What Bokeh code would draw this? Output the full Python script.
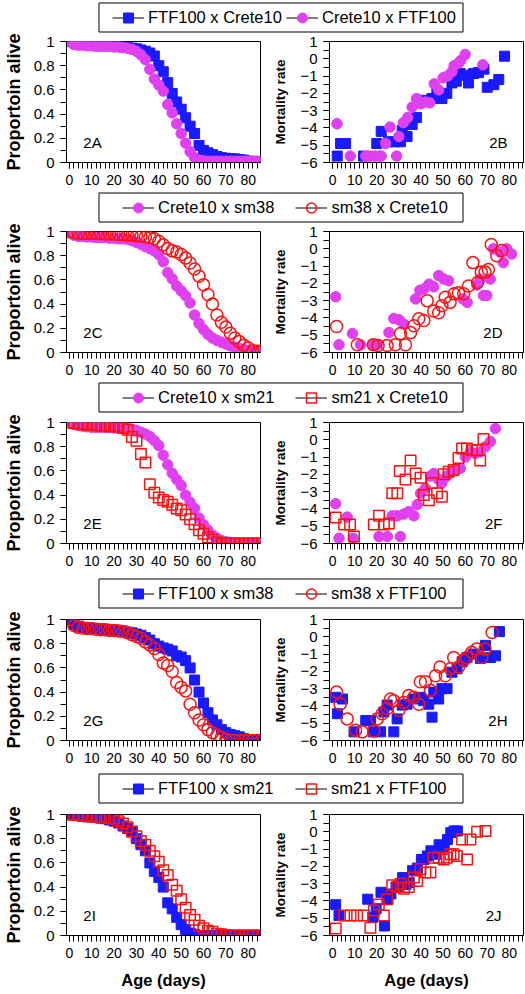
import math
from bokeh.plotting import figure
from bokeh.layouts import column, row
from bokeh.models import (Range1d, SingleIntervalTicker, Label, Legend, LegendItem,
                          BoxAnnotation, CustomJSTickFormatter)
from bokeh.core.properties import value
from bokeh.embed import file_html
from bokeh.resources import INLINE

FONT = "Liberation Sans"
BLUE = "#1a1aff"
PINK = "#e040f0"
RED = "#ff1010"

# ---------------- data ----------------
AGES = list(range(0, 88, 2))

surv_A_ftf_crete = [1.0, 0.995, 0.99, 0.99, 0.985, 0.98, 0.98, 0.975, 0.97, 0.97,
                    0.965, 0.96, 0.955, 0.95, 0.945, 0.94, 0.93, 0.92, 0.905, 0.88,
                    0.80, 0.75, 0.66, 0.57, 0.50, 0.44, 0.37, 0.30, 0.24, 0.14,
                    0.10, 0.08, 0.065, 0.05, 0.04, 0.035, 0.03, 0.03, 0.025, 0.02,
                    0.01, 0.01, 0.005, 0.0]
surv_A_crete_ftf = [1.0, 0.975, 0.97, 0.97, 0.965, 0.965, 0.96, 0.96, 0.96, 0.96,
                    0.955, 0.955, 0.95, 0.945, 0.935, 0.92, 0.89, 0.85, 0.77, 0.69,
                    0.64, 0.59, 0.48, 0.41, 0.32, 0.24, 0.16, 0.09, 0.04, 0.02,
                    0.015, 0.01, 0.01, 0.01, 0.01, 0.01, 0.01, 0.01, 0.01, 0.01,
                    0.01, 0.01, 0.01, 0.01]
surv_C_crete_sm38 = [1.0, 0.97, 0.96, 0.96, 0.955, 0.955, 0.95, 0.95, 0.95, 0.945,
                     0.945, 0.94, 0.94, 0.935, 0.925, 0.91, 0.895, 0.875, 0.86, 0.84,
                     0.81, 0.75, 0.66, 0.61, 0.55, 0.51, 0.47, 0.41, 0.31, 0.24,
                     0.19, 0.15, 0.12, 0.10, 0.085, 0.07, 0.055, 0.045, 0.035, 0.025,
                     0.015, 0.01, 0.01, 0.01]
surv_C_sm38_crete = [1.0, 0.99, 0.985, 0.985, 0.985, 0.985, 0.985, 0.985, 0.98, 0.98,
                     0.98, 0.975, 0.975, 0.97, 0.97, 0.965, 0.96, 0.955, 0.95, 0.94,
                     0.92, 0.89, 0.86, 0.84, 0.83, 0.81, 0.78, 0.74, 0.69, 0.63,
                     0.56, 0.48, 0.40, 0.31, 0.25, 0.21, 0.16, 0.12, 0.09, 0.06,
                     0.04, 0.015, 0.01, 0.01]
surv_E_crete_sm21 = [1.0, 0.985, 0.975, 0.97, 0.965, 0.96, 0.96, 0.96, 0.96, 0.96,
                     0.955, 0.955, 0.95, 0.95, 0.945, 0.935, 0.92, 0.905, 0.885, 0.85,
                     0.81, 0.73, 0.65, 0.58, 0.53, 0.48, 0.40, 0.34, 0.29, 0.21,
                     0.155, 0.11, 0.07, 0.045, 0.025, 0.015, 0.01, 0.005, 0.0, 0.0,
                     0.0, 0.0, 0.0, 0.0]
surv_E_sm21_crete = [1.0, 0.995, 0.99, 0.985, 0.98, 0.98, 0.975, 0.975, 0.975, 0.97,
                     0.97, 0.965, 0.955, 0.94, 0.88, 0.85, 0.74, 0.67, 0.49, 0.42,
                     0.38, 0.36, 0.345, 0.32, 0.29, 0.275, 0.24, 0.20, 0.16, 0.11,
                     0.08, 0.05, 0.03, 0.01, 0.0, 0.0, 0.0, 0.0, 0.0, 0.0,
                     0.0, 0.0, 0.0, 0.0]
surv_G_ftf_sm38 = [1.0, 0.96, 0.945, 0.935, 0.93, 0.925, 0.925, 0.92, 0.92, 0.915,
                   0.91, 0.91, 0.905, 0.895, 0.89, 0.88, 0.87, 0.85, 0.83, 0.80,
                   0.78, 0.765, 0.755, 0.74, 0.70, 0.69, 0.66, 0.60, 0.50, 0.40,
                   0.31, 0.23, 0.17, 0.13, 0.09, 0.065, 0.05, 0.04, 0.03, 0.015,
                   0.005, 0.0, 0.0, 0.0]
surv_G_sm38_ftf = [1.0, 0.95, 0.935, 0.93, 0.925, 0.925, 0.92, 0.915, 0.915, 0.91,
                   0.91, 0.905, 0.90, 0.89, 0.875, 0.86, 0.845, 0.815, 0.79, 0.76,
                   0.71, 0.64, 0.62, 0.57, 0.48, 0.44, 0.41, 0.30, 0.23, 0.17,
                   0.13, 0.09, 0.065, 0.045, 0.025, 0.01, 0.0, 0.0, 0.0, 0.0,
                   0.0, 0.0, 0.0, 0.0]
surv_I_ftf_sm21 = [1.0, 0.995, 0.99, 0.985, 0.98, 0.98, 0.975, 0.97, 0.965, 0.955,
                   0.945, 0.93, 0.905, 0.885, 0.855, 0.80, 0.75, 0.70, 0.60, 0.53,
                   0.48, 0.40, 0.27, 0.22, 0.15, 0.09, 0.05, 0.02, 0.01, 0.0,
                   0.0, 0.0, 0.0, 0.0, 0.0, 0.0, 0.0, 0.0, 0.0, 0.0,
                   0.0, 0.0, 0.0, 0.0]
surv_I_sm21_ftf = [1.0, 1.0, 0.995, 0.99, 0.99, 0.985, 0.98, 0.98, 0.975, 0.97,
                   0.965, 0.945, 0.925, 0.895, 0.86, 0.82, 0.78, 0.75, 0.70, 0.655,
                   0.61, 0.54, 0.50, 0.42, 0.37, 0.30, 0.23, 0.17, 0.13, 0.08,
                   0.06, 0.04, 0.03, 0.015, 0.01, 0.005, 0.0, 0.0, 0.0, 0.0,
                   0.0, 0.0, 0.0, 0.0]

# mortality rate (ln) series: ages and values
mort_B_ftf_crete_age = [2.1, 3.6, 5.9, 14, 20, 22, 25.4, 28.4, 30.7, 31.5, 33.7, 36, 38, 41.4, 45,
                        47.2, 49.5, 51.7, 54, 56, 57.7, 60, 61.5, 63.8, 66, 68.5, 70, 73, 75.2, 77.8]
mort_B_ftf_crete_val = [-5.63, -4.9, -4.9, -5.63, -4.9, -4.2, -4.8, -4.8, -4.8, -4.15, -4.5, -3.8, -3.4,
                        -2.4, -2.3, -1.9, -2.3, -2.0, -1.4, -1.3, -0.85, -0.95, -1.4, -0.85, -0.8, -0.6,
                        -1.65, -1.5, -1.2, 0.15]
mort_B_crete_ftf_age = [2, 8, 15, 17, 19, 21, 22, 24, 26, 29, 30, 32, 34, 36, 38, 40, 42, 44, 46, 48,
                        50, 52, 54, 55, 57, 58, 60, 68]
mort_B_crete_ftf_val = [-3.76, -5.63, -5.63, -5.63, -5.63, -5.63, -5.63, -4.9, -3.95, -5.63, -4.5, -3.7,
                        -3.4, -2.8, -2.3, -2.6, -2.5, -2.55, -1.45, -1.8, -1.1, -1.0, -0.75, -0.4, -0.25,
                        -0.1, 0.25, -0.35]
mort_D_crete_sm38_age = [1.4, 2.9, 9, 12.7, 18, 20.2, 25.5, 27.7, 30, 32.2, 37.6, 39.5, 41.3, 43.6, 45.8,
                         48, 50.3, 52.5, 59, 60.9, 65.3, 66.8, 68.3, 69.8, 71.3, 72.8, 75.8, 77.3, 78.8, 81]
mort_D_crete_sm38_val = [-2.78, -5.55, -4.9, -5.55, -5.55, -5.55, -4.84, -4.03, -4.1, -4.35, -2.9, -2.4,
                         -2.33, -2.05, -2.2, -1.55, -1.75, -1.85, -2.9, -3.1, -2.1, -1.75, -2.7, -2.7,
                         -1.75, 0.0, -0.2, -0.8, 0.0, -0.3]
mort_D_sm38_crete_age = [1.8, 11.2, 18.4, 20.6, 24.7, 28.4, 30.7, 33, 35.3, 36.8, 39, 41.3, 42.8, 45.8, 48,
                         49.5, 51, 53.2, 55, 57, 59.3, 61.5, 63.5, 65.6, 67.3, 69, 70.5, 71.8, 74.3, 76.6]
mort_D_sm38_crete_val = [-4.5, -5.55, -5.55, -5.6, -5.6, -5.55, -4.9, -5.55, -4.85, -4.45, -4.05, -4.15,
                         -3.0, -3.6, -3.7, -3.3, -2.8, -3.1, -2.6, -2.55, -2.6, -2.15, -0.8, -1.95, -1.35,
                         -1.35, -1.2, 0.25, -0.4, -0.1]
mort_F_crete_sm21_age = [1.4, 2.9, 6.6, 9.3, 21, 24.8, 27, 29.3, 30.7, 32.2, 34.5, 36.8, 38.3, 39.8, 42,
                         44.3, 45.8, 48, 49.5, 51.8, 54, 55.5, 57.8, 60.1, 62.4, 64.6, 66.9, 69.2, 71.4, 73.7]
mort_F_crete_sm21_val = [-3.7, -5.7, -4.47, -5.7, -5.6, -5.6, -4.4, -4.4, -5.6, -4.3, -4.15, -4.4, -3.75,
                         -3.1, -2.8, -2.1, -1.95, -2.3, -2.5, -2.1, -1.85, -1.75, -1.65, -1.0, -0.7, -0.8,
                         -0.7, -0.4, -0.1, 0.65]
mort_F_sm21_crete_age = [1.4, 5.2, 7.9, 9.7, 18.7, 21, 23.2, 25.5, 27, 29.3, 30.4, 33, 35.3, 37.6, 39.8,
                         41.3, 43.6, 45, 47.3, 49.5, 50.3, 52.5, 54.8, 57, 58.6, 60.8, 63, 65.3, 66.8, 68.3]
mort_F_sm21_crete_val = [-4.5, -4.9, -4.9, -5.6, -4.9, -4.4, -4.9, -4.85, -3.1, -3.1, -1.8, -2.3, -1.2,
                         -1.95, -2.2, -3.2, -3.5, -2.5, -3.1, -3.3, -2.0, -1.85, -1.75, -1.05, -0.5, -0.5,
                         -0.6, -0.6, -1.2, 0.05]
mort_H_ftf_sm38_age = [1.4, 2.2, 4.5, 9.7, 15, 17.2, 18.4, 21.7, 23.2, 24.7, 27.7, 29.2, 31.5, 33.7, 36.7,
                       39.7, 41.2, 43.5, 45, 45.8, 48, 49.5, 51.8, 54, 56.3, 58.6, 60.8, 63.8, 66.9, 69.2,
                       71.4, 73.7, 75.5]
mort_H_ftf_sm38_val = [-3.5, -4.45, -3.6, -5.5, -4.85, -4.85, -5.5, -5.5, -4.35, -3.95, -5.5, -4.75, -3.95,
                       -3.9, -3.6, -3.5, -3.7, -3.9, -4.65, -3.2, -3.6, -3.0, -3.0, -2.05, -1.85, -1.45,
                       -1.2, -1.0, -1.25, -0.5, -1.2, -1.1, 0.3]
mort_H_sm38_ftf_age = [1.8, 3.4, 6.6, 10.4, 13.4, 18.7, 20.2, 22.4, 24.7, 26.2, 27.7, 30, 32.2, 34.5, 36.7,
                       39, 39.7, 42, 44.3, 46.6, 48.6, 51, 53.3, 54.8, 57, 59.3, 60.8, 63, 65.3, 67.5, 69,
                       72.2]
mort_H_sm38_ftf_val = [-3.2, -3.9, -4.75, -5.4, -5.5, -5.45, -4.75, -4.45, -4.15, -3.6, -3.7, -4.25, -3.8,
                       -3.4, -3.5, -3.9, -2.6, -2.6, -3.1, -2.25, -1.75, -2.25, -1.85, -1.2, -1.75, -1.35,
                       -1.2, -0.9, -0.7, -1.2, -0.7, 0.25]
mort_J_ftf_sm21_age = [1.4, 2.9, 15.9, 18.2, 19.7, 21.9, 23.5, 25, 26.4, 28.7, 30.2, 31.7, 33.2, 34.7, 36.2,
                       38.4, 40.2, 41.4, 42.9, 44.5, 46.7, 48.2, 50.5, 52, 53.5, 55, 56.5]
mort_J_ftf_sm21_val = [-4.22, -4.85, -3.9, -4.95, -4.45, -3.5, -5.45, -3.9, -3.6, -3.2, -3.1, -2.65, -3.05,
                       -2.95, -2.25, -2.1, -1.6, -1.6, -1.4, -1.1, -1.3, -0.75, -0.85, -0.45, -0.05, 0.05,
                       0.05]
mort_J_sm21_ftf_age = [1.4, 5.2, 8.1, 11.1, 14.1, 17.1, 18.7, 20.9, 23.2, 24.7, 27, 29.3, 30.8, 32.3, 34.5,
                       36.8, 38.3, 39.8, 42, 44.3, 45.8, 48, 50.3, 51.8, 53.3, 54.8, 56.3, 58.6, 60.9, 62.4,
                       65.4, 69.2]
mort_J_sm21_ftf_val = [-5.6, -4.85, -4.85, -4.85, -4.85, -5.55, -4.55, -4.2, -4.85, -3.9, -3.1, -3.2, -3.0,
                       -3.3, -3.2, -2.65, -2.85, -2.15, -2.35, -2.35, -1.5, -1.5, -1.6, -1.5, -1.3, -1.3,
                       -1.4, -0.45, -1.6, -0.45, 0.0, 0.05]

LEGEND_LABELS = [("FTF100 x Crete10", "Crete10 x FTF100"),
                 ("Crete10 x sm38", "sm38 x Crete10"),
                 ("Crete10 x sm21", "sm21 x Crete10"),
                 ("FTF100 x sm38", "sm38 x FTF100"),
                 ("FTF100 x sm21", "sm21 x FTF100")]
PANEL_TAGS = [("2A", "2B"), ("2C", "2D"), ("2E", "2F"), ("2G", "2H"), ("2I", "2J")]
Y_LABEL_LEFT = "Proportoin alive"
Y_LABEL_RIGHT = "Mortality rate"
X_LABEL = "Age (days)"

SURV = [(surv_A_ftf_crete, surv_A_crete_ftf),
        (surv_C_crete_sm38, surv_C_sm38_crete),
        (surv_E_crete_sm21, surv_E_sm21_crete),
        (surv_G_ftf_sm38, surv_G_sm38_ftf),
        (surv_I_ftf_sm21, surv_I_sm21_ftf)]
MORT = [((mort_B_ftf_crete_age, mort_B_ftf_crete_val), (mort_B_crete_ftf_age, mort_B_crete_ftf_val)),
        ((mort_D_crete_sm38_age, mort_D_crete_sm38_val), (mort_D_sm38_crete_age, mort_D_sm38_crete_val)),
        ((mort_F_crete_sm21_age, mort_F_crete_sm21_val), (mort_F_sm21_crete_age, mort_F_sm21_crete_val)),
        ((mort_H_ftf_sm38_age, mort_H_ftf_sm38_val), (mort_H_sm38_ftf_age, mort_H_sm38_ftf_val)),
        ((mort_J_ftf_sm21_age, mort_J_ftf_sm21_val), (mort_J_sm21_ftf_age, mort_J_sm21_ftf_val))]

# ---------------- styles / layout ----------------
STYLES = {
    "blue_sq": dict(marker="square", size=10, fill_color=BLUE, line_color=BLUE, line_width=1),
    "pink": dict(marker="circle", size=10.5, fill_color=PINK, line_color=PINK, line_width=1),
    "red_circ": dict(marker="circle", size=12, fill_color=None, line_color=RED, line_width=1.5),
    "red_sq": dict(marker="square", size=10.5, fill_color=None, line_color=RED, line_width=1.5),
}
ROW_STYLES = [("blue_sq", "pink"), ("pink", "red_circ"), ("pink", "red_sq"),
              ("blue_sq", "red_circ"), ("blue_sq", "red_sq")]
PANEL_TOP = [8, 8, 9, 10, 10]
PANEL_BOTTOM = [28, 28, 33, 31, 57]
RIGHT_TAG_DX = [16, 21, 21, 16, 22]
LEG_PARAMS = [dict(P=14, LW=134, S=4)] + [dict(P=24, LW=116, S=21)] * 4

FRAME_H = 121
LEG_H = 33
BOX_L, BOX_W, BOX_H = 98, 364, 29
TOTAL_W = 525


def style_axis(ax, tick_font="14px"):
    ax.axis_line_color = "black"
    ax.axis_line_width = 1
    ax.major_tick_line_color = "black"
    ax.minor_tick_line_color = "black"
    ax.major_tick_in = 0
    ax.major_tick_out = 6
    ax.minor_tick_in = 0
    ax.minor_tick_out = 6
    ax.major_label_text_font = FONT
    ax.major_label_text_font_size = tick_font
    ax.major_label_text_color = "black"
    ax.major_label_standoff = 6
    ax.axis_label_text_font = FONT
    ax.axis_label_text_font_style = "bold"
    ax.axis_label_text_color = "black"


def make_panel(side, idx, last):
    top, bottom = PANEL_TOP[idx], PANEL_BOTTOM[idx]
    if side == "L":
        w, mbl, mbr = 264, 64, 4
        xr, yr = Range1d(-1.3, 85.5), Range1d(0, 1)
    else:
        w, mbl, mbr = TOTAL_W - 264, 65, 2
        xr, yr = Range1d(-1.4, 86.4), Range1d(-6, 1)
    p = figure(width=w, height=top + FRAME_H + bottom, x_range=xr, y_range=yr,
               output_backend="svg", toolbar_location=None,
               min_border_left=mbl, min_border_right=mbr,
               min_border_top=top, min_border_bottom=bottom,
               outline_line_color="black", outline_line_alpha=1.0, outline_line_width=1,
               background_fill_color="white", border_fill_color="white")
    p.xgrid.visible = False
    p.ygrid.visible = False
    xa, ya = p.xaxis[0], p.yaxis[0]
    style_axis(xa, "14px")
    style_axis(ya, "15px")
    xa.ticker = SingleIntervalTicker(interval=10, num_minor_ticks=5)
    if side == "L":
        ya.ticker = SingleIntervalTicker(interval=0.2, num_minor_ticks=2)
        ya.formatter = CustomJSTickFormatter(code="return String(Math.round(tick*10)/10);")
        ya.axis_label = Y_LABEL_LEFT
        ya.axis_label_text_font_size = "18px"
        ya.axis_label_standoff = 7
    else:
        ya.ticker = SingleIntervalTicker(interval=1, num_minor_ticks=2)
        ya.axis_label = Y_LABEL_RIGHT
        ya.axis_label_text_font_size = "13.5px"
        ya.axis_label_standoff = 9
    if last:
        xa.axis_label = X_LABEL
        xa.axis_label_text_font_size = "16.5px"
        xa.axis_label_standoff = 10

    s1, s2 = ROW_STYLES[idx]
    if side == "L":
        a, b = SURV[idx]
        p.scatter(x=AGES, y=a, **STYLES[s1])
        p.scatter(x=AGES, y=b, **STYLES[s2])
    else:
        (xa1, ya1), (xb1, yb1) = MORT[idx]
        p.scatter(x=xa1, y=ya1, **STYLES[s1])
        p.scatter(x=xb1, y=yb1, **STYLES[s2])

    frame_w = w - mbl - mbr
    ppx = frame_w / (xr.end - xr.start)
    ty = yr.start + 20 * (yr.end - yr.start) / FRAME_H
    ltag, rtag = PANEL_TAGS[idx]
    if side == "L":
        lab = Label(x=xr.start + 17 / ppx, y=ty, text=ltag, text_align="left")
    else:
        lab = Label(x=xr.end - RIGHT_TAG_DX[idx] / ppx, y=ty, text=rtag, text_align="right")
    lab.text_font = FONT
    lab.text_font_size = "15px"
    lab.text_color = "black"
    lab.text_baseline = "alphabetic"
    p.add_layout(lab)
    return p


def make_legend(idx):
    prm = LEG_PARAMS[idx]
    f = figure(width=TOTAL_W, height=LEG_H, x_range=Range1d(0, TOTAL_W), y_range=Range1d(0, LEG_H),
               output_backend="svg", toolbar_location=None, min_border=0,
               x_axis_type=None, y_axis_type=None, outline_line_color=None,
               background_fill_color="white", border_fill_color="white")
    bottom = LEG_H - 3 - BOX_H
    box = BoxAnnotation(left=BOX_L + 0.5, right=BOX_L + BOX_W + 0.5, bottom=bottom + 0.5,
                        top=bottom + BOX_H + 0.5,
                        fill_color="white", fill_alpha=1.0, line_color="black",
                        line_width=1, line_alpha=1.0)
    f.add_layout(box)
    items = []
    nan = float("nan")
    for lab, st in zip(LEGEND_LABELS[idx], ROW_STYLES[idx]):
        lr = f.line(x=[nan], y=[nan], line_color="black", line_width=1)
        sr = f.scatter(x=[nan], y=[nan], **STYLES[st])
        items.append(LegendItem(label=value(lab), renderers=[lr, sr]))
    leg = Legend(items=items, location=(BOX_L + prm["P"], bottom + 2),
                 orientation="horizontal", padding=0, margin=0, spacing=prm["S"],
                 glyph_width=32, glyph_height=25, label_width=prm["LW"], label_height=25,
                 label_standoff=4, label_text_font=FONT, label_text_font_size="16.5px",
                 label_text_color="black", border_line_color=None,
                 background_fill_alpha=0.0)
    f.add_layout(leg)
    return f


children = []
for i in range(5):
    last = (i == 4)
    children.append(make_legend(i))
    children.append(row(make_panel("L", i, last), make_panel("R", i, last)))

page = column(*children)
open("out.html", "w").write(file_html(page, INLINE))
